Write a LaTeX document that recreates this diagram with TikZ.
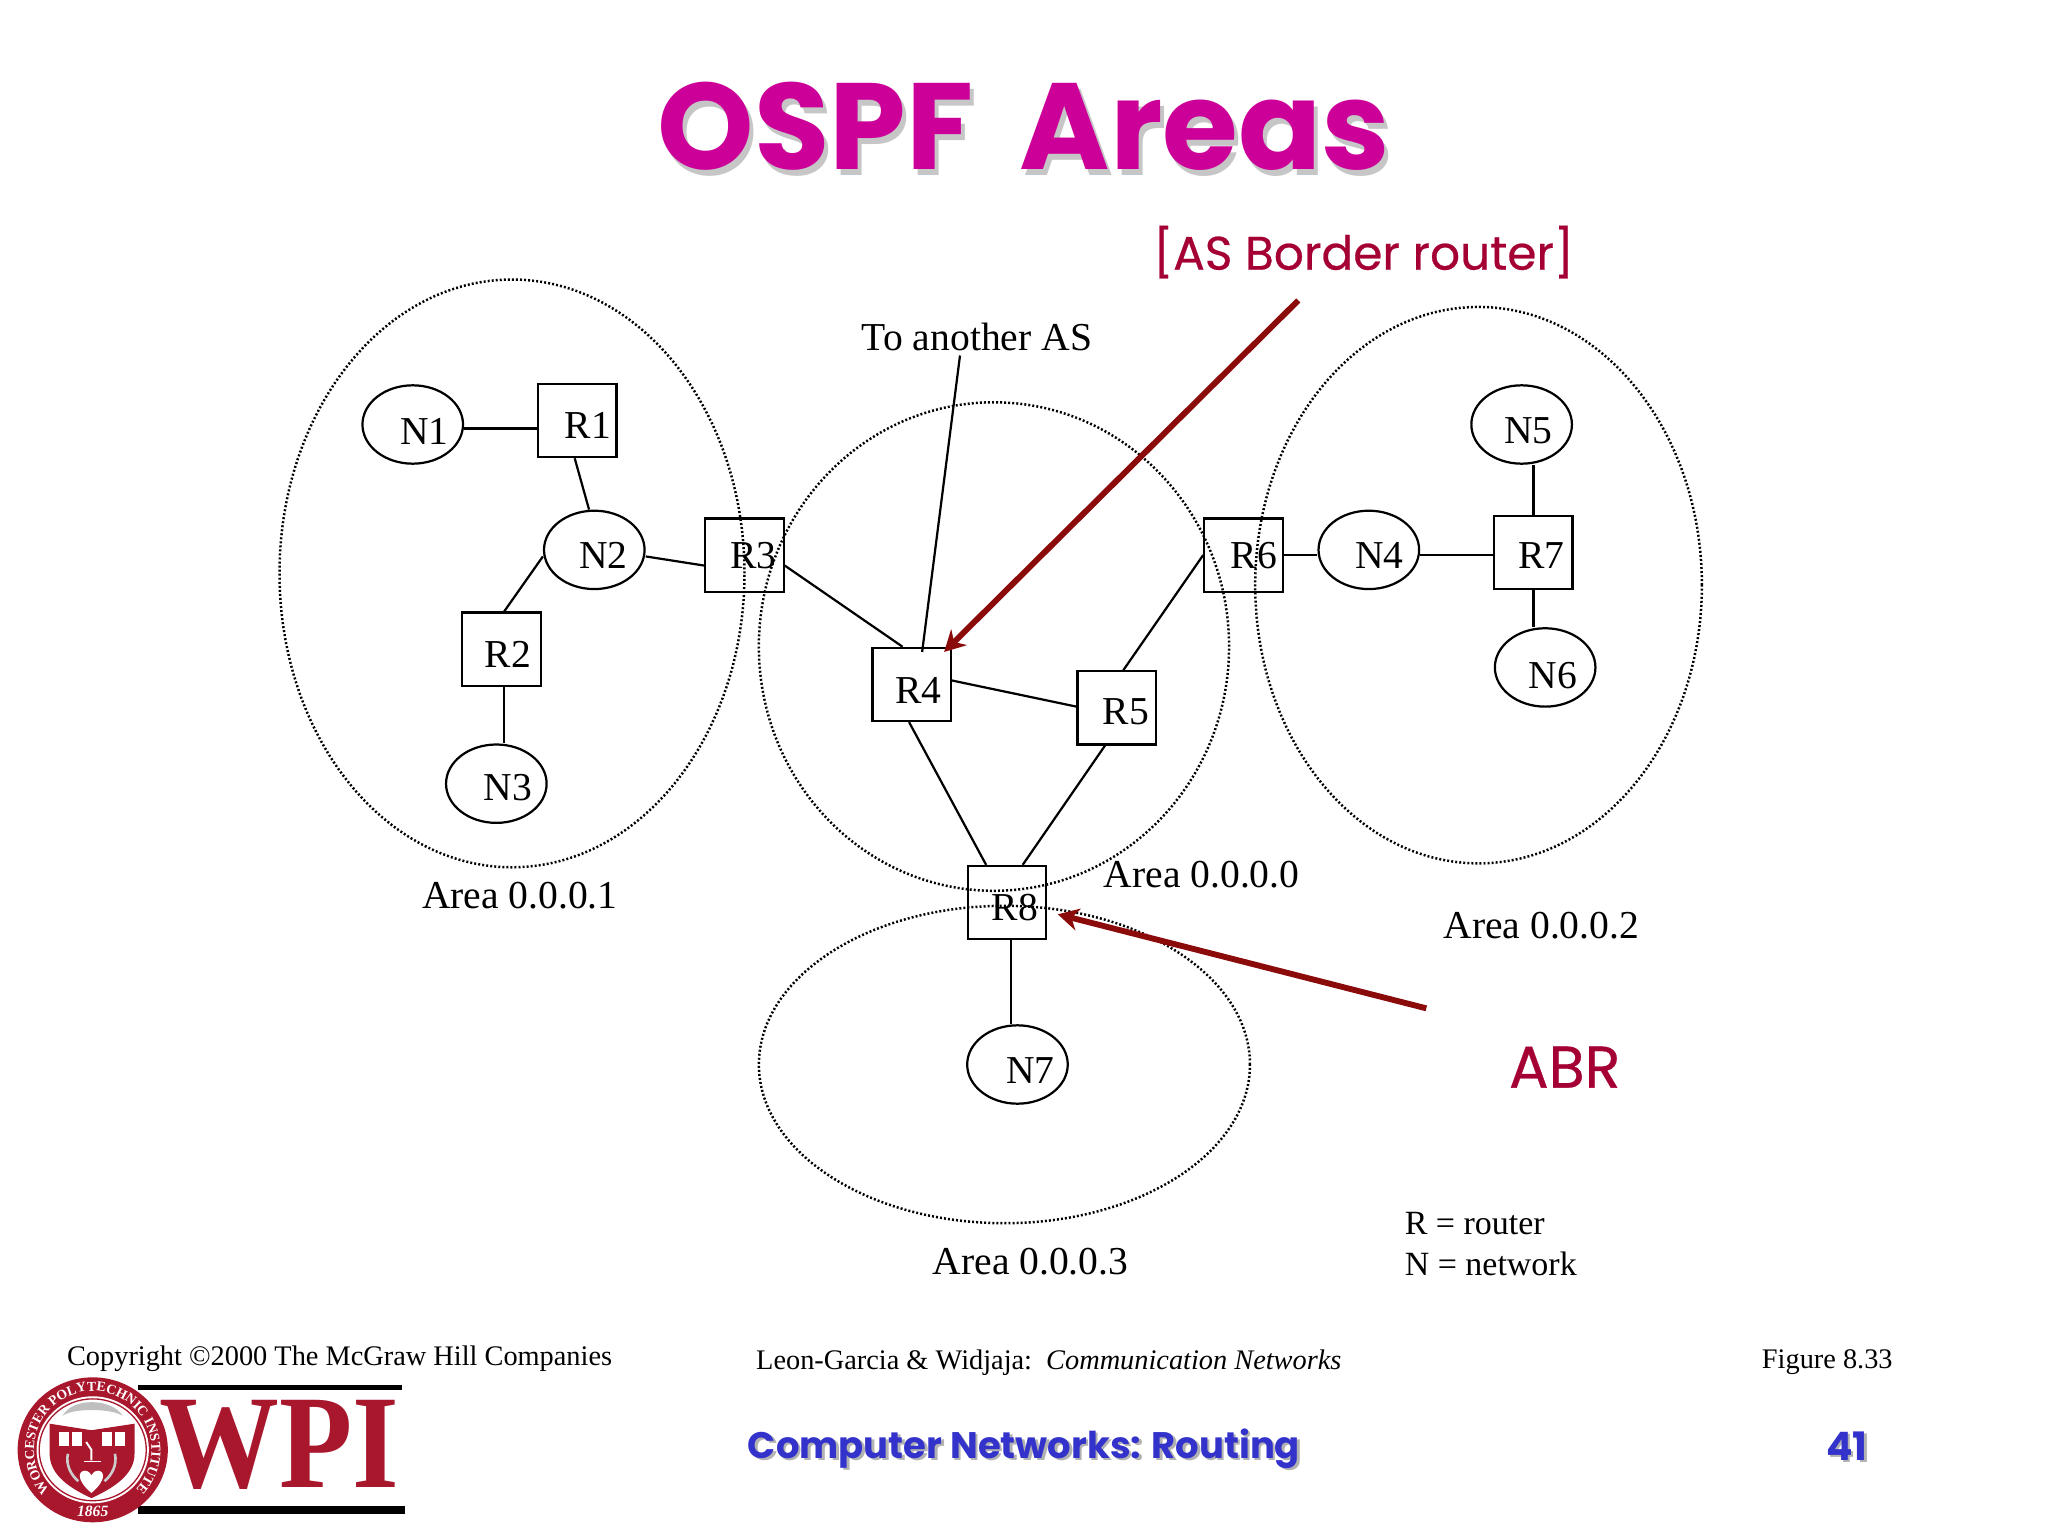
\documentclass[tikz,border=0pt]{standalone}
\usepackage{fontspec}
\usepackage{tikz}
\usetikzlibrary{shapes.geometric,decorations.text,arrows.meta}
\setmainfont{Liberation Serif}
\newfontfamily\handfont{Poppins}
\newfontfamily\notefont[FakeBold=0.5]{Poppins}
\definecolor{titlepink}{HTML}{CC0099}
\definecolor{notered}{HTML}{A50034}
\definecolor{arrowred}{HTML}{8B0A0A}
\definecolor{footblue}{HTML}{3333CC}
\definecolor{wpired}{HTML}{A9172D}
\newcommand{\fsize}[1]{\fontsize{#1}{#1}\selectfont}

\begin{document}
\begin{tikzpicture}[x=1pt,y=-1pt,every node/.style={font=\fsize{30.3}}]
\tikzstyle{rbox}=[draw,rectangle,line width=1.7pt,minimum width=60pt,minimum height=56pt,inner sep=0pt]
\tikzstyle{nnet}=[draw,ellipse,line width=1.7pt,minimum width=77pt,minimum height=60pt,inner sep=0pt]
\tikzstyle{areabub}=[draw,ellipse,line width=1.9pt,dash pattern=on 1.5pt off 1.6pt,inner sep=0pt]
\tikzstyle{link}=[line width=1.7pt]
\tikzstyle{callout}=[line width=4.5pt,color=arrowred,-{Stealth[length=16pt,width=17pt]}]
\tikzstyle{small}=[font=\fsize{21.7}]
\useasboundingbox (0,0) rectangle (1568,1176);

\node [font=\handfont\bfseries\fsize{94},text=gray!45] at (787,101) {OSPF\, Areas};
\node [font=\handfont\bfseries\fsize{94},text=titlepink] (title) at (784,97) {OSPF\, Areas};
\node [font=\notefont\fsize{36},text=notered] (asnote) at (1044,193) {[AS Border router]};
\node [font=\notefont\fsize{45},text=notered] (abrnote) at (1198,817) {ABR};

\node [areabub,minimum width=356pt,minimum height=450pt] (a1) at (392,439) {};
\node [areabub,minimum width=360pt,minimum height=374pt] (a0) at (761,495) {};
\node [areabub,minimum width=342pt,minimum height=426pt] (a2) at (1132,448) {};
\node [areabub,minimum width=376pt,minimum height=243pt] (a3) at (769,815) {};

\node [rbox,label={[xshift=8pt,yshift=-4pt]center:R1}] (R1) at (442,322) {};
\node [rbox,label={[xshift=5pt,yshift=-4pt]center:R2}] (R2) at (384,497) {};
\node [rbox,label={[xshift=7pt]center:R3}] (R3) at (570,425) {};
\node [rbox,label={[xshift=5pt,yshift=-5pt]center:R4}] (R4) at (698,524) {};
\node [rbox,label={[xshift=7pt,yshift=-3pt]center:R5}] (R5) at (855,542) {};
\node [rbox,label={[xshift=8pt]center:R6}] (R6) at (952,425) {};
\node [rbox,label={[xshift=6pt,yshift=-2pt]center:R7}] (R7) at (1174,423) {};
\node [rbox,label={[xshift=6pt,yshift=-4pt]center:R8}] (R8) at (771,691) {};

\node [nnet,label={[xshift=9pt,yshift=-5pt]center:N1}] (N1) at (316,325) {};
\node [nnet,label={[xshift=7pt,yshift=-4pt]center:N2}] (N2) at (455,421) {};
\node [nnet,label={[xshift=9pt,yshift=-3pt]center:N3}] (N3) at (380,600) {};
\node [nnet,label={[xshift=8pt,yshift=-4pt]center:N4}] (N4) at (1048,421) {};
\node [nnet,label={[xshift=5pt,yshift=-5pt]center:N5}] (N5) at (1165,325) {};
\node [nnet,label={[xshift=6pt,yshift=-6pt]center:N6}] (N6) at (1183,511) {};
\node [nnet,label={[xshift=10pt,yshift=-5pt]center:N7}] (N7) at (779,815) {};

\node (as) at (748,258) {To another AS};
\node (lab1) at (398,686) {Area 0.0.0.1};
\node (lab0) at (920,670) {Area 0.0.0.0};
\node (lab2) at (1180,709) {Area 0.0.0.2};
\node (lab3) at (789,966) {Area 0.0.0.3};
\node [font=\fsize{26},anchor=west] (key1) at (1072,937) {R = router};
\node [font=\fsize{26},anchor=west] (key2) at (1072,968) {N = network};

\draw [link] ([yshift=-3pt]N1.east) -- ([yshift=-6pt]R1.west);
\draw [link] ([xshift=-2pt]R1.south) -- ([xshift=-4pt]N2.north);
\draw [link] ([yshift=-5pt]N2.east) -- ([yshift=-8pt]R3.west);
\draw [link] ([yshift=-5pt]N2.west) -- ([xshift=2pt]R2.north);
\draw [link] ([xshift=2pt]R2.south) -- ([xshift=6pt]N3.north);
\draw [link] ([yshift=-8pt]R3.east) -- ([xshift=-7pt]R4.north);
\draw [link] ([xshift=-13pt]as.south) -- ([xshift=8pt,yshift=-4pt]R4.north);
\draw [link] ([yshift=3pt]R4.east) -- ([yshift=1pt]R5.west);
\draw [link] ([xshift=-2pt]R4.south) -- ([xshift=-16pt]R8.north);
\draw [link] ([xshift=-9pt]R5.south) -- ([xshift=12pt]R8.north);
\draw [link] ([xshift=5pt]R5.north) -- (R6.west);
\draw [link] (R6.east) -- ([yshift=-4pt]N4.west);
\draw [link] ([yshift=-4pt]N4.east) -- ([yshift=-2pt]R7.west);
\draw [link] ([xshift=9pt]N5.south) -- (R7.north);
\draw [link] (R7.south) -- ([xshift=-9pt]N6.north);
\draw [link] ([xshift=3pt]R8.south) -- ([xshift=-5pt]N7.north);

\coordinate (arrow1) at (994,230);
\coordinate (arrow2) at (1092,772);
\draw [callout] (arrow1) -- ([xshift=-6pt,yshift=-4pt]R4.north east);
\draw [callout] (arrow2) -- ([xshift=8pt,yshift=-9pt]R8.east);

\node [small] (copy) at (260,1040) {Copyright \textcopyright 2000 The McGraw Hill Companies};
\node [small] (book) at (803,1043) {Leon-Garcia \& Widjaja:\ \ \textit{Communication Networks}};
\node [small] (fig) at (1399,1043) {Figure 8.33};
\node [font=\handfont\bfseries\fsize{28.3},text=gray!60] at (786,1111) {Computer Networks: Routing};
\node [font=\handfont\bfseries\fsize{28.3},text=footblue] (foot) at (784,1109) {Computer Networks: Routing};
\node [font=\handfont\bfseries\fsize{30},text=gray!60] at (1416,1109) {41};
\node [font=\handfont\bfseries\fsize{30},text=footblue] (page) at (1414,1107) {41};

\fill [black] (106,1060) rectangle (308,1064);
\fill [black] (106,1153) rectangle (310,1159);
\node [font=\bfseries\fsize{102},text=wpired,inner sep=0pt] (wpi) at (214,1106) {\scalebox{.9}[1]{WPI}};

\fill [wpired] (71,1110) ellipse [x radius=57.5,y radius=55.5];
\fill [white] (71,1110) ellipse [x radius=43,y radius=41];
\draw [wpired,line width=1pt] (71,1110) ellipse [x radius=41,y radius=39];
\fill [wpired] (38,1090) -- (70,1095) -- (103,1090) -- (103,1113)
  .. controls (103,1130) and (85,1140) .. (70,1147)
  .. controls (55,1140) and (38,1130) .. (38,1113) -- cycle;
\fill [gray!50] (48,1084) .. controls (55,1070) and (85,1070) .. (94,1084)
  .. controls (85,1078) and (55,1078) .. (48,1084) -- cycle;
\fill [white] (45,1096) rectangle (53,1107);
\fill [white] (55,1096) rectangle (63,1107);
\fill [white] (78,1096) rectangle (86,1107);
\fill [white] (88,1096) rectangle (96,1107);
\fill [white] (70,1143) .. controls (58,1133) and (60,1126) .. (65,1126)
  .. controls (68,1126) and (70,1129) .. (70,1130)
  .. controls (70,1129) and (72,1126) .. (75,1126)
  .. controls (80,1126) and (82,1133) .. (70,1143) -- cycle;
\draw [white,line width=1pt] (64,1119) -- (77,1119);
\draw [white,line width=1.5pt] (70,1118) -- (70,1110) -- (66,1104);
\draw [gray!40,line width=2pt] (52,1113) .. controls (50,1122) and (55,1130) .. (60,1134);
\draw [gray!40,line width=2pt] (88,1113) .. controls (90,1122) and (85,1130) .. (80,1134);
\path [shift={(71,1110)},postaction={decorate},decoration={text along path,
  text align=center,text color=white,
  text={|\bfseries\fsize{10.5}|WORCESTER POLYTECHNIC INSTITUTE}}]
  (125:45) arc (125:415:45);
\node [font=\bfseries\itshape\fsize{12},text=white,inner sep=0pt] (year) at (71,1157) {1865};
\end{tikzpicture}
\end{document}
